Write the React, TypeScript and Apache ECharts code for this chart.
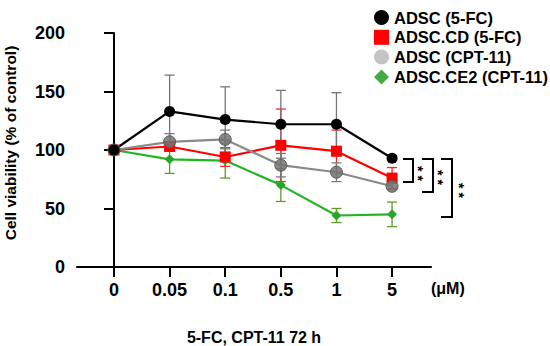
import React, { useEffect, useRef } from "react";
import * as echarts from "echarts";

const categories = ["0", "0.05", "0.1", "0.5", "1", "5"];
const seriesNames = ["ADSC (5-FC)", "ADSC.CD (5-FC)", "ADSC (CPT-11)", "ADSC.CE2 (CPT-11)"];
const adsc5fcMean = [100, 133, 126, 122, 122, 93];
const adsc5fcSd = [0, 31, 28, 29, 27, 2];
const adscCd5fcMean = [100, 103, 94, 104, 99, 76];
const adscCd5fcSd = [0, 3, 8, 31, 18, 9];
const adscCptMean = [100, 107, 109, 87, 81, 69];
const adscCptSd = [0, 7, 8, 10, 8, 3];
const adscCe2CptMean = [100, 92, 91, 70, 44, 45];
const adscCe2CptSd = [0, 12, 15, 14, 6, 10.5];
const yTicks = [0, 50, 100, 150, 200];

const FONT = "'Liberation Sans', Arial, Helvetica, sans-serif";

function points(mean: number[]) {
  return mean.map((v, i) => [i, v]);
}
function errs(mean: number[], sd: number[]) {
  return mean.map((v, i) => [i, v - sd[i], v + sd[i]]).filter((_, i) => sd[i] > 0);
}

function errorSeries(name: string, mean: number[], sd: number[], color: string) {
  return {
    type: "custom",
    name: name + " err",
    z: 1,
    silent: true,
    encode: { x: 0, y: [1, 2] },
    data: errs(mean, sd),
    renderItem: (params: any, api: any) => {
      const x = api.value(0);
      const lo = api.value(1);
      const hi = api.value(2);
      const p1 = api.coord([x, hi]);
      const p2 = api.coord([x, lo]);
      const hw = 5;
      const st = { stroke: color, lineWidth: 1.3 };
      return {
        type: "group",
        children: [
          { type: "line", shape: { x1: p1[0], y1: p1[1], x2: p2[0], y2: p2[1] }, style: st },
          { type: "line", shape: { x1: p1[0] - hw, y1: p1[1], x2: p1[0] + hw, y2: p1[1] }, style: st },
          { type: "line", shape: { x1: p2[0] - hw, y1: p2[1], x2: p2[0] + hw, y2: p2[1] }, style: st },
        ],
      };
    },
  };
}

export default function App() {
  const ref = useRef<HTMLDivElement>(null);
  useEffect(() => {
    if (!ref.current) return;
    const chart = echarts.init(ref.current, null, { renderer: "svg" });
    const bracket = (pts: number[][]) => ({
      type: "polyline",
      shape: { points: pts },
      style: { stroke: "#000", lineWidth: 2, fill: null },
    });
    const stars = (x: number, y: number) => ({
      type: "text",
      x: x - 2.5,
      y,
      rotation: -Math.PI / 2,
      style: {
        text: "* *",
        fontSize: 14,
        fontWeight: "bold",
        fontFamily: FONT,
        fill: "#000",
        align: "center",
        verticalAlign: "middle",
      },
    });
    chart.setOption({
      animation: false,
      grid: { left: 77, right: 119, top: 33, bottom: 79, containLabel: false },
      legend: {
        orient: "vertical",
        left: 369,
        top: 4,
        itemWidth: 15,
        itemHeight: 15,
        itemGap: 2.8,
        selectedMode: false,
        textStyle: { fontSize: 16.5, fontWeight: "bold", fontFamily: FONT, color: "#000", lineHeight: 16.5 },
        data: [
          { name: seriesNames[0], icon: "circle", itemStyle: { color: "#000", borderWidth: 0 } },
          { name: seriesNames[1], icon: "rect", itemStyle: { color: "#ff0000", borderWidth: 0 } },
          { name: seriesNames[2], icon: "circle", itemStyle: { color: "#c4c4c4", borderWidth: 0 } },
          { name: seriesNames[3], icon: "diamond", itemStyle: { color: "#44aa44", borderWidth: 0 } },
        ],
      },
      xAxis: {
        type: "value",
        min: -0.665,
        max: 5.7,
        splitLine: { show: false },
        axisLine: { show: true, onZero: false, lineStyle: { color: "#000", width: 2 } },
        axisTick: { show: true, customValues: [0, 1, 2, 3, 4, 5], length: 10, lineStyle: { color: "#000", width: 2 } },
        axisLabel: {
          show: true,
          customValues: [0, 1, 2, 3, 4, 5],
          formatter: (v: number) => categories[Math.round(v)],
          margin: 14,
          fontSize: 18,
          fontWeight: "bold",
          fontFamily: FONT,
          color: "#000",
        },
      },
      yAxis: {
        type: "value",
        min: 0,
        max: 200,
        interval: 50,
        splitLine: { show: false },
        axisLine: { show: true, lineStyle: { color: "#000", width: 2 } },
        axisTick: { show: true, length: 10, lineStyle: { color: "#000", width: 2 } },
        axisLabel: {
          margin: 12,
          fontSize: 18,
          fontWeight: "bold",
          fontFamily: FONT,
          color: "#000",
          formatter: (v: number) => (yTicks.includes(v) ? String(v) : ""),
        },
      },
      graphic: [
        {
          type: "text",
          x: 10,
          y: 143,
          rotation: Math.PI / 2,
          style: {
            text: "Cell viability (% of control)",
            fontSize: 15.5,
            fontWeight: "bold",
            fontFamily: FONT,
            fill: "#000",
            align: "center",
            verticalAlign: "middle",
          },
        },
        {
          type: "text",
          x: 254,
          y: 337,
          style: {
            text: "5-FC, CPT-11 72 h",
            fontSize: 16,
            fontWeight: "bold",
            fontFamily: FONT,
            fill: "#000",
            align: "center",
            verticalAlign: "middle",
          },
        },
        {
          type: "text",
          x: 431,
          y: 288,
          style: {
            text: "(μM)",
            fontSize: 16,
            fontWeight: "bold",
            fontFamily: FONT,
            fill: "#000",
            align: "left",
            verticalAlign: "middle",
          },
        },
        bracket([[403, 159], [413, 159], [413, 182], [403, 182]]),
        bracket([[422, 159], [433, 159], [433, 192], [422, 192]]),
        bracket([[441, 159], [452, 159], [452, 217], [441, 217]]),
        stars(420, 173.5),
        stars(440, 177.5),
        stars(461, 190.5),
      ],
      series: [
        errorSeries(seriesNames[3], adscCe2CptMean, adscCe2CptSd, "#5f9a2f"),
        errorSeries(seriesNames[1], adscCd5fcMean, adscCd5fcSd, "#ff2020"),
        errorSeries(seriesNames[2], adscCptMean, adscCptSd, "#7a7a7a"),
        errorSeries(seriesNames[0], adsc5fcMean, adsc5fcSd, "#777777"),
        {
          type: "line",
          name: seriesNames[3],
          data: points(adscCe2CptMean),
          symbol: "diamond",
          symbolSize: 10,
          lineStyle: { color: "#22b522", width: 2.2 },
          itemStyle: { color: "#2aa52a" },
          z: 2,
        },
        {
          type: "line",
          name: seriesNames[1],
          data: points(adscCd5fcMean),
          symbol: "rect",
          symbolSize: 11,
          lineStyle: { color: "#ff0000", width: 2.2 },
          itemStyle: { color: "#ff0000" },
          z: 2,
        },
        {
          type: "line",
          name: seriesNames[2],
          data: points(adscCptMean),
          symbol: "circle",
          symbolSize: 12,
          lineStyle: { color: "#8a8a8a", width: 2.2 },
          itemStyle: { color: "rgba(115,115,115,0.85)", borderColor: "#5a5a5a", borderWidth: 1 },
          z: 2,
        },
        {
          type: "line",
          name: seriesNames[0],
          data: points(adsc5fcMean),
          symbol: "circle",
          symbolSize: 11,
          lineStyle: { color: "#000", width: 2.2 },
          itemStyle: { color: "#000" },
          z: 2,
        },
      ],
    });
    return () => chart.dispose();
  }, []);
  return (
    <div
      ref={ref}
      style={{ position: "fixed", left: 0, top: 0, width: 550, height: 346, background: "#fff" }}
    />
  );
}
